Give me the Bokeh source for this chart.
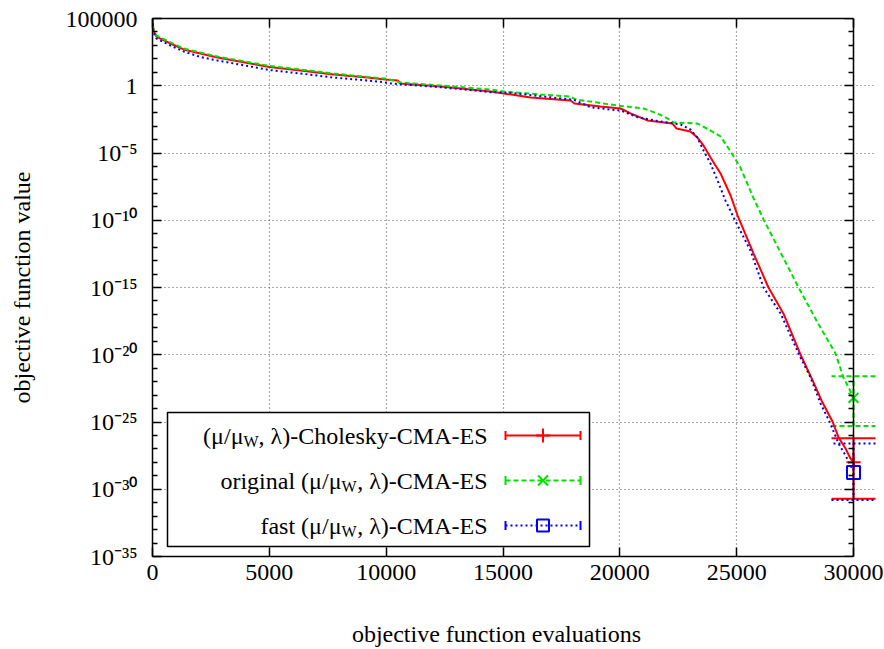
import numpy as np
from bokeh.plotting import figure
from bokeh.models import (ColumnDataSource, FixedTicker, LinearAxis, LogAxis,
                          CustomJSTickFormatter, Whisker, TeeHead, Range1d)
from bokeh.core.properties import value
from bokeh.embed import file_html
from bokeh.resources import INLINE

FONT = "Liberation Serif"

# ---------------- data ----------------
# (mu/mu_W, lambda)-Cholesky-CMA-ES  (red, solid)
chol_evals = [0, 40, 170, 340, 770, 1330, 2050, 2780, 4190, 5010, 6330, 7750, 9200,
              9970, 10490, 10610, 12330, 14470, 16180, 17890, 18060, 19170, 20030,
              20460, 21180, 22250, 22430, 23020, 23320, 23580, 23880, 24310, 24740,
              25040, 25720, 26360, 27000, 27730, 28250, 28630, 29100, 29360, 29660,
              29870, 30000]
chol_log10 = [5.00, 4.11, 3.66, 3.51, 3.14, 2.70, 2.40, 2.10, 1.65, 1.39, 1.13, 0.84,
              0.61, 0.46, 0.39, 0.17, -0.06, -0.43, -0.87, -1.10, -1.32, -1.54, -1.69,
              -2.06, -2.58, -2.81, -3.18, -3.40, -3.85, -4.44, -5.33, -6.52, -8.16,
              -9.65, -12.47, -15.00, -16.93, -19.98, -21.91, -23.40, -24.96, -26.15,
              -26.97, -27.71, -28.01]

# original (mu/mu_W, lambda)-CMA-ES  (green, dashed)
orig_evals = [0, 40, 170, 340, 770, 1330, 2050, 2780, 4190, 5010, 6330, 7750, 9200,
              9970, 10610, 12330, 14470, 15190, 16610, 17890, 18100, 19040, 19900,
              20460, 21010, 21610, 22040, 22300, 23320, 23880, 24310, 24740, 25160,
              25720, 26150, 26880, 27650, 28460, 29230, 29570, 29790, 30000]
orig_log10 = [5.00, 4.18, 3.74, 3.59, 3.22, 2.77, 2.47, 2.17, 1.73, 1.47, 1.21, 0.91,
              0.65, 0.54, 0.24, 0.02, -0.28, -0.46, -0.65, -0.80, -1.02, -1.25, -1.47,
              -1.58, -1.69, -2.06, -2.43, -2.73, -2.81, -3.33, -3.77, -4.89, -6.08,
              -8.35, -9.94, -12.40, -15.00, -17.60, -19.91, -21.69, -22.43, -23.18]

# fast (mu/mu_W, lambda)-CMA-ES  (blue, dotted)
fast_evals = [0, 40, 170, 340, 770, 1330, 2050, 2780, 4190, 5010, 6330, 7750, 9200,
              9890, 10190, 12330, 14470, 15320, 16610, 18020, 18740, 19600, 20030,
              20760, 21740, 22600, 23020, 23320, 23580, 23880, 24180, 24520, 24910,
              25590, 26150, 26880, 27650, 28160, 28590, 28970, 29360, 29660, 29870,
              30000]
fast_log10 = [5.00, 3.96, 3.51, 3.36, 2.99, 2.55, 2.14, 1.88, 1.43, 1.17, 0.91, 0.61,
              0.39, 0.26, 0.17, -0.11, -0.48, -0.52, -0.78, -1.04, -1.59, -1.77, -1.84,
              -2.34, -2.66, -2.88, -3.25, -3.85, -4.81, -5.78, -7.04, -8.53, -9.94,
              -12.25, -15.00, -16.93, -19.91, -21.69, -23.62, -24.96, -26.60, -27.49,
              -28.23, -28.60]

# final values at 30000 evaluations: centre, lower, upper (log10)
final_evals = [30000, 30000, 30000]
final_log10 = [-28.0, -23.2, -28.75]
final_lower_log10 = [-30.7, -25.3, -30.8]
final_upper_log10 = [-26.2, -21.6, -26.6]

series_prefix = ["(μ/μ", "original (μ/μ", "fast (μ/μ"]
series_sub = ["W", "W", "W"]
series_suffix = [", λ)-Cholesky-CMA-ES", ", λ)-CMA-ES", ", λ)-CMA-ES"]

x_ticks = [0, 5000, 10000, 15000, 20000, 25000, 30000]
y_major_exp = [5, 0, -5, -10, -15, -20, -25, -30, -35]
y_minor_exp = [e for e in range(-35, 6) if e not in y_major_exp]

# ---------------- figure ----------------
X0, XMAX, Y0, Y1 = 0, 30000, -35, 5      # axis extents (log10 for y)
FL, AXR, FT, FB = 152, 853, 18, 556       # pixel positions of x=0, x=30000, top, bottom
FR = 876                                  # frame right edge (room for error-bar caps)
X_END = X0 + (XMAX - X0) * (FR - FL) / (AXR - FL)

p = figure(width=884, height=649, y_axis_type="log",
           x_range=Range1d(X0, X_END), y_range=Range1d(10.0 ** Y0, 10.0 ** Y1),
           output_backend="svg", toolbar_location=None,
           min_border_left=FL, min_border_right=884 - FR, min_border_top=FT,
           min_border_bottom=649 - FB)
p.background_fill_color = "white"
p.border_fill_color = "white"
p.outline_line_color = None


def px2x(px):
    return X0 + (px - FL) * (X_END - X0) / (FR - FL)


def py2y(py):
    return 10.0 ** (Y1 - (py - FT) * (Y1 - Y0) / (FB - FT))


def log_ticker():
    return FixedTicker(ticks=[10.0 ** e for e in y_major_exp],
                       minor_ticks=[10.0 ** e for e in y_minor_exp])


p.xaxis.ticker = FixedTicker(ticks=x_ticks)
p.xaxis.bounds = (X0, XMAX)
p.yaxis.ticker = log_ticker()
p.yaxis.formatter = CustomJSTickFormatter(code="""
const e = Math.round(Math.log10(tick));
if (e == 5) return "100000";
if (e == 0) return "1";
const sup = {"-": "\\u207B", "0": "\\u2070", "1": "\\u00B9", "2": "\\u00B2", "3": "\\u00B3",
             "4": "\\u2074", "5": "\\u2075", "6": "\\u2076", "7": "\\u2077", "8": "\\u2078", "9": "\\u2079"};
return "10" + String(e).split("").map(c => sup[c]).join("");
""")

for ax in (p.xaxis[0], p.yaxis[0]):
    ax.major_label_text_font = FONT
    ax.major_label_text_font_size = "24px"
    ax.major_label_text_color = "black"
    ax.axis_label_text_font = FONT
    ax.axis_label_text_font_size = "24px"
    ax.axis_label_text_font_style = "normal"
    ax.axis_label_text_color = "black"
    ax.major_tick_in = 9
    ax.major_tick_out = 0
    ax.minor_tick_in = 5
    ax.minor_tick_out = 0
    ax.axis_line_width = 1.5
    ax.major_tick_line_width = 1.5
    ax.minor_tick_line_width = 1.5

# trailing no-break spaces re-centre the label under the 0..30000 axis span
p.xaxis.axis_label = "objective function evaluations" + "\u00a0" * 6
p.xaxis.major_label_standoff = 8
p.xaxis.axis_label_standoff = 38
p.yaxis.axis_label = "objective function value"
p.yaxis.major_label_standoff = 15
p.yaxis.axis_label_standoff = 28

blank = CustomJSTickFormatter(code="return '';")
top = LinearAxis(ticker=FixedTicker(ticks=x_ticks), formatter=blank, bounds=(X0, XMAX),
                 major_tick_in=9, major_tick_out=0, minor_tick_in=0, minor_tick_out=0,
                 axis_line_width=1.5, major_tick_line_width=1.5, major_label_standoff=0)
p.add_layout(top, "above")
right = LogAxis(ticker=log_ticker(), formatter=blank, major_label_standoff=0,
                fixed_location=XMAX,
                major_tick_in=9, major_tick_out=0, minor_tick_in=5, minor_tick_out=0,
                axis_line_width=1.5, major_tick_line_width=1.5, minor_tick_line_width=1.5)
p.add_layout(right, "right")

for g in (p.xgrid[0], p.ygrid[0]):
    g.grid_line_color = "#555555"
    g.grid_line_dash = "1 3"
    g.grid_line_width = 1.2
p.ygrid[0].bounds = (X0, XMAX)

# ---------------- curves ----------------
colors = ["#ff0000", "#00e000", "#0000ff"]
dashes = ["solid", "5 3", "2 3"]
markers = ["cross", "x", "square"]
curves = [(chol_evals, chol_log10), (orig_evals, orig_log10), (fast_evals, fast_log10)]
for (xs, ls), c, d in zip(curves, colors, dashes):
    src = ColumnDataSource(dict(x=xs, y=[10.0 ** v for v in ls]))
    p.line("x", "y", source=src, line_color=c, line_width=2, line_dash=d)

# ---------------- final-value error bars ----------------
for i, (c, d, m) in enumerate(zip(colors, dashes, markers)):
    src = ColumnDataSource(dict(x=[final_evals[i]],
                                lo=[10.0 ** final_lower_log10[i]],
                                hi=[10.0 ** final_upper_log10[i]],
                                y=[10.0 ** final_log10[i]]))
    w = Whisker(source=src, base="x", lower="lo", upper="hi", dimension="height",
                line_color=c, line_width=2, line_dash=d,
                lower_head=TeeHead(size=44, line_color=c, line_width=2, line_dash=d),
                upper_head=TeeHead(size=44, line_color=c, line_width=2, line_dash=d))
    p.add_layout(w)
    p.scatter("x", "y", source=src, marker=m, size=14 if m != "square" else 13,
              line_color=c, fill_color=None, line_width=2)

# ---------------- legend (drawn by hand on top of the curves) ----------------
BOX = (167, 589, 412, 546)          # left, right, top, bottom (pixels)
ROWS = [435, 480, 525]              # row centres (pixels)
TEXT_RIGHT = 487
SAMPLE = (505, 580)
MARK_X = 542.5
SUFFIX_W = [229, 131, 131]          # approx. pixel widths of the suffix texts
SUB_W = 15

p.quad(left=[px2x(BOX[0])], right=[px2x(BOX[1])], top=[py2y(BOX[2])],
       bottom=[py2y(BOX[3])], fill_color="white", line_color="black", line_width=1.5)

for i in range(3):
    r = ROWS[i]
    c, d, m = colors[i], dashes[i], markers[i]
    p.text(x=[px2x(TEXT_RIGHT)], y=[py2y(r)], text=[series_suffix[i]],
           text_align="right", text_baseline="middle", text_font=value(FONT),
           text_font_size="24px", text_color="black")
    p.text(x=[px2x(TEXT_RIGHT - SUFFIX_W[i])], y=[py2y(r + 6)], text=[series_sub[i]],
           text_align="right", text_baseline="middle", text_font=value(FONT),
           text_font_size="16px", text_color="black")
    p.text(x=[px2x(TEXT_RIGHT - SUFFIX_W[i] - SUB_W)], y=[py2y(r)], text=[series_prefix[i]],
           text_align="right", text_baseline="middle", text_font=value(FONT),
           text_font_size="24px", text_color="black")
    # sample line with error-bar caps
    p.segment(x0=[px2x(SAMPLE[0])], x1=[px2x(SAMPLE[1])], y0=[py2y(r)], y1=[py2y(r)],
              line_color=c, line_width=2, line_dash=d)
    p.segment(x0=[px2x(SAMPLE[0]), px2x(SAMPLE[1])], x1=[px2x(SAMPLE[0]), px2x(SAMPLE[1])],
              y0=[py2y(r - 4.5)] * 2, y1=[py2y(r + 4.5)] * 2,
              line_color=c, line_width=2)
    p.scatter(x=[px2x(MARK_X)], y=[py2y(r)], marker=m,
              size=14 if m != "square" else 12,
              line_color=c, fill_color=None, line_width=2)

open("out.html", "w", encoding="utf-8").write(file_html(p, INLINE))
